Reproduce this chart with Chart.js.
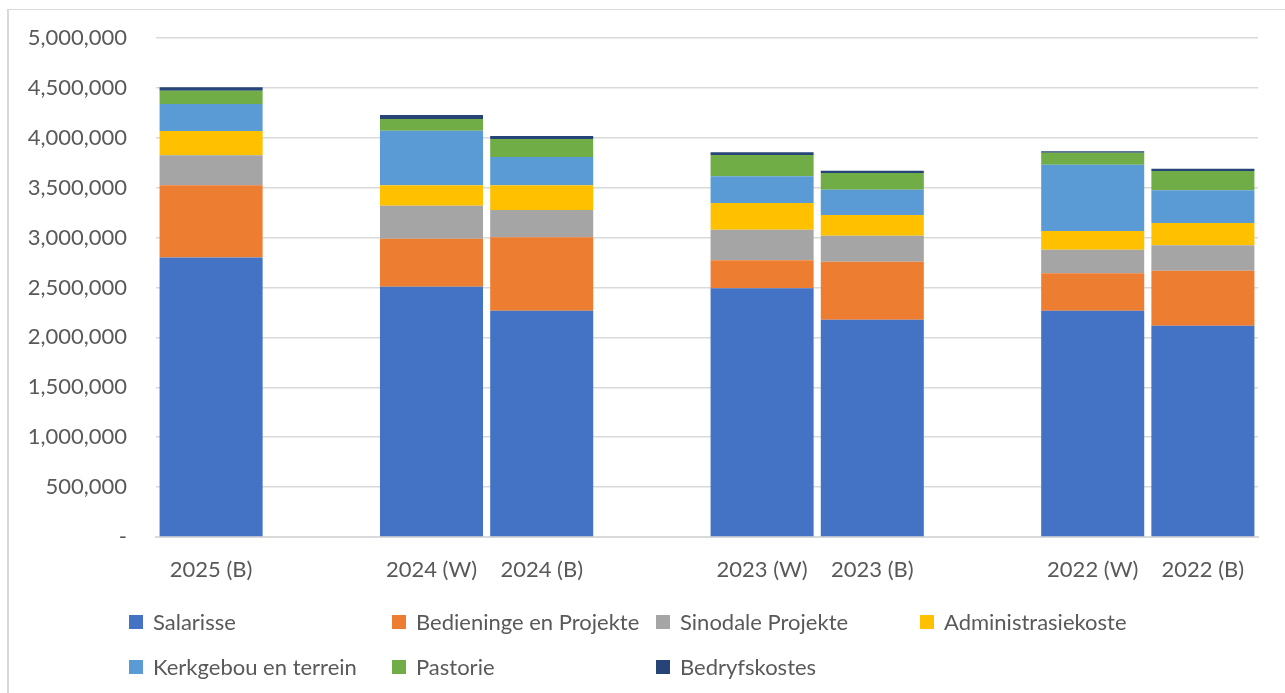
<!DOCTYPE html>
<html>
<head>
<meta charset="utf-8">
<script src="https://cdn.jsdelivr.net/npm/chart.js@4/dist/chart.umd.min.js"></script>
<style>
  html, body { margin: 0; padding: 0; background: #fff; overflow: hidden; }
  #wrap { position: relative; width: 1285px; height: 693px; }
  #frame { position: absolute; left: 7px; top: 9px; width: 1300px; height: 700px; border: 1px solid #d9d9d9; border-width: 1px 0 0 2px; box-sizing: border-box; }
  canvas { position: absolute; left: 0; top: 0; }
  .lg { position: absolute; font-family: Lato, sans-serif; font-size: 22px; color: #595959; white-space: nowrap; line-height: 26px; }
  .lg i { position: absolute; width: 14px; height: 14px; left: 0; top: 6px; }
  .lg span { position: absolute; left: 24px; top: 0; }
</style>
</head>
<body>
<div id="wrap">
  <div id="frame"></div>
  <canvas id="c" width="1285" height="693"></canvas>
  <div id="legend"></div>
</div>
<script>
const categories = ['2025 (B)', '', '2024 (W)', '2024 (B)', '', '2023 (W)', '2023 (B)', '', '2022 (W)', '2022 (B)'];
const seriesNames = ['Salarisse', 'Bedieninge en Projekte', 'Sinodale Projekte', 'Administrasiekoste', 'Kerkgebou en terrein', 'Pastorie', 'Bedryfskostes'];
const salarisse      = [2800000, null, 2508000, 2268000, null, 2492000, 2177000, null, 2268000, 2117000];
const bedieninge     = [ 724000, null,  481000,  735000, null,  280000,  582000, null,  374000,  551000];
const sinodale       = [ 301000, null,  331000,  274000, null,  307000,  260000, null,  237000,  255000];
const administrasie  = [ 243000, null,  204000,  247000, null,  268000,  207000, null,  187000,  223000];
const kerkgebou      = [ 271000, null,  547000,  284000, null,  267000,  254000, null,  665000,  328000];
const pastorie       = [ 133000, null,  117000,  180000, null,  214000,  167000, null,  120000,  193000];
const bedryfskostes  = [  34000, null,   40000,   30000, null,   27000,   24000, null,   14000,   23000];
const yTicks = [0, 500000, 1000000, 1500000, 2000000, 2500000, 3000000, 3500000, 4000000, 4500000, 5000000];

const seriesValues = [salarisse, bedieninge, sinodale, administrasie, kerkgebou, pastorie, bedryfskostes];
const colors = ['#4472C4', '#ED7D31', '#A5A5A5', '#FFC000', '#5B9BD5', '#70AD47', '#264478'];

const datasets = seriesNames.map((n, i) => ({
  label: n,
  data: seriesValues[i],
  backgroundColor: colors[i],
  borderWidth: 0,
  barPercentage: 0.935,
  categoryPercentage: 1.0,
  stack: 's'
}));

const fontFam = 'Lato, sans-serif';
new Chart(document.getElementById('c'), {
  type: 'bar',
  data: { labels: categories, datasets },
  options: {
    responsive: false,
    animation: false,
    devicePixelRatio: 1,
    layout: { padding: { top: 38, right: 27, left: 0, bottom: 0 } },
    plugins: { legend: { display: false }, tooltip: { enabled: false } },
    scales: {
      x: {
        stacked: true,
        grid: { display: false, drawTicks: false },
        border: { display: true, color: '#d9d9d9', width: 2 },
        ticks: { color: '#595959', font: { family: fontFam, size: 22 }, padding: 20, maxRotation: 0, autoSkip: false },
        afterFit: s => { s.height = 156; s.paddingLeft = 0; s.paddingRight = 0; }
      },
      y: {
        stacked: true,
        min: 0, max: 5000000,
        afterBuildTicks: s => { s.ticks = yTicks.map(v => ({ value: v })); },
        grid: { color: '#d9d9d9', lineWidth: 1.5, drawTicks: false },
        border: { display: false },
        ticks: {
          color: '#595959', font: { family: fontFam, size: 22 }, padding: 29,
          callback: v => v === 0 ? '-' : v.toLocaleString('en-US')
        },
        afterFit: s => { s.width = 156; s.paddingTop = 0; s.paddingBottom = 0; }
      }
    }
  }
});

// legend (grid layout like the original)
const legendPos = [[129, 609], [392, 609], [656, 609], [920, 609], [129, 654], [392, 654], [656, 654]];
const lg = document.getElementById('legend');
seriesNames.forEach((n, i) => {
  const d = document.createElement('div');
  d.className = 'lg';
  d.style.left = legendPos[i][0] + 'px';
  d.style.top = legendPos[i][1] + 'px';
  d.innerHTML = '<i style="background:' + colors[i] + '"></i><span>' + n + '</span>';
  lg.appendChild(d);
});
</script>
</body>
</html>
